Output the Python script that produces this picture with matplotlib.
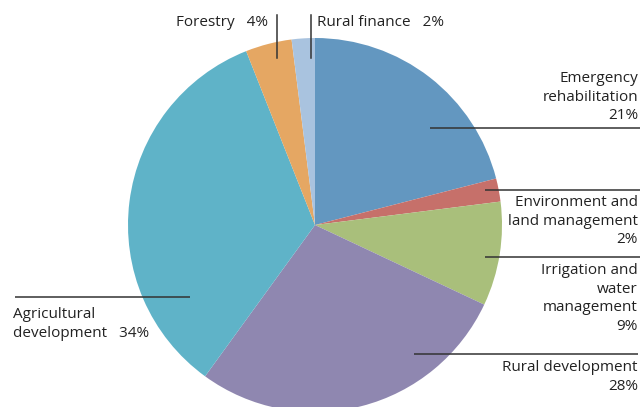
import matplotlib
matplotlib.use("Agg")
import matplotlib.pyplot as plt

categories = ["Emergency\nrehabilitation", "Environment and\nland management",
              "Irrigation and\nwater\nmanagement", "Rural development",
              "Agricultural\ndevelopment", "Forestry", "Rural finance"]
shares = [21, 2, 9, 28, 34, 4, 2]
colors = ["#6397c0", "#c6706a", "#a9bf7b", "#8f87b0", "#5fb3c8", "#e5a763", "#a9c3df"]

W, H = 640, 407
fig = plt.figure(figsize=(W / 100, H / 100), dpi=100)
ax = fig.add_axes([0, 0, 1, 1])
cx, cy, r = 315, H - 225, 187
ax.pie(shares, colors=colors, startangle=90, counterclock=False,
       center=(cx, cy), radius=r, wedgeprops=dict(linewidth=0))
ax.set_xlim(0, W)
ax.set_ylim(0, H)
ax.set_aspect("auto")
ax.axis("off")

plt.rcParams["font.family"] = ["Open Sans", "DejaVu Sans"]
fs = 11
ls = 1.32
tc = "#222222"
lc = "#333333"

def Y(p):
    return H - p

def hline(x0, x1, y):
    ax.plot([x0, x1], [Y(y), Y(y)], color=lc, lw=1.1, solid_capstyle="butt")

def label(x, ytop, text, ha):
    ax.text(x, Y(ytop), text, ha=ha, va="top", fontsize=fs, color=tc,
            linespacing=ls)

# Emergency rehabilitation
hline(430, 640, 128)
label(638, 71, f"{categories[0]}\n{shares[0]}%", "right")
# Environment
hline(485, 640, 190)
label(638, 195, f"{categories[1]}\n{shares[1]}%", "right")
# Irrigation
hline(485, 640, 257)
label(638, 263, f"{categories[2]}\n{shares[2]}%", "right")
# Rural development
hline(414, 638, 354)
label(638, 360, f"{categories[3]}\n{shares[3]}%", "right")
# Agricultural development
hline(15, 190, 297)
label(13, 307, "Agricultural\ndevelopment   " + f"{shares[4]}%", "left")
# Forestry
ax.plot([277, 277], [Y(15), Y(58)], color=lc, lw=1.1)
ax.text(268, Y(22), f"{categories[5]}   {shares[5]}%", ha="right", va="center",
        fontsize=fs, color=tc)
# Rural finance
ax.plot([311, 311], [Y(15), Y(58)], color=lc, lw=1.1)
ax.text(317, Y(22), f"{categories[6]}   {shares[6]}%", ha="left", va="center",
        fontsize=fs, color=tc)

fig.savefig("out.png", dpi=100)
